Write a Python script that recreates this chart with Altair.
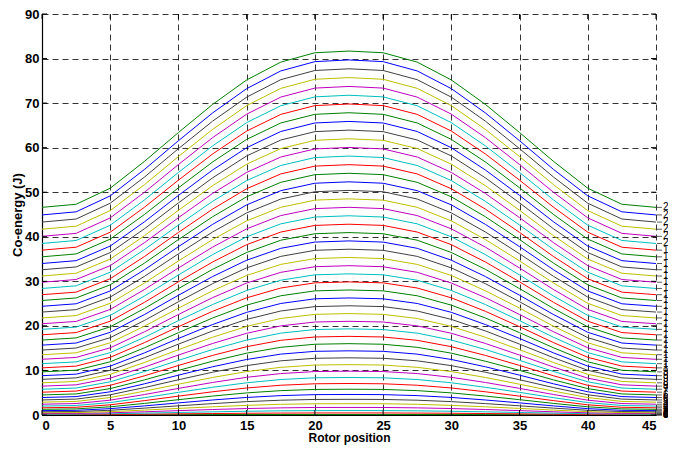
import altair as alt
import pandas as pd

# Rotor positions (x) at which co-energy values were read
positions = [0, 2.5, 5, 7.5, 10, 12.5, 15, 17.5, 20, 22.5, 25, 27.5, 30, 32.5, 35, 37.5, 40, 42.5, 45]

# Current labels shown at the right end of each curve
current_labels = ["0", "0.45", "0.9", "1.35", "1.8", "2.25", "2.7", "3.15", "3.6", "4.05",
                  "4.5", "4.95", "5.4", "5.85", "6.3", "6.75", "7.2", "7.65", "8.1", "8.55",
                  "9", "9.45", "9.9", "10.35", "10.8", "11.25", "11.7", "12.15", "12.6", "13.05",
                  "13.5", "13.95", "14.4", "14.85", "15.3", "15.75", "16.2", "16.65", "17.1", "17.55",
                  "18", "18.45", "18.9", "19.35", "19.8", "20.25", "20.7", "21.15", "21.6", "22.05", "22.5"]

# Co-energy (J) per curve, one row per current, values at the positions above
coenergy = [
    [0, 0, 0, 0, 0, 0, 0, 0, 0, 0, 0, 0, 0, 0, 0, 0, 0, 0, 0],
    [0.02, 0.02, 0.03, 0.05, 0.07, 0.09, 0.10, 0.11, 0.12, 0.12, 0.12, 0.11, 0.10, 0.09, 0.07, 0.05, 0.03, 0.02, 0.02],
    [0.08, 0.09, 0.13, 0.19, 0.26, 0.33, 0.39, 0.43, 0.46, 0.46, 0.46, 0.43, 0.39, 0.33, 0.26, 0.19, 0.13, 0.09, 0.08],
    [0.18, 0.20, 0.28, 0.42, 0.57, 0.71, 0.84, 0.93, 0.98, 0.99, 0.98, 0.93, 0.84, 0.71, 0.57, 0.42, 0.28, 0.20, 0.18],
    [0.32, 0.35, 0.49, 0.72, 0.98, 1.23, 1.45, 1.60, 1.69, 1.70, 1.69, 1.60, 1.45, 1.23, 0.98, 0.72, 0.49, 0.35, 0.32],
    [0.50, 0.54, 0.75, 1.10, 1.48, 1.84, 2.16, 2.40, 2.52, 2.54, 2.52, 2.40, 2.16, 1.84, 1.48, 1.10, 0.75, 0.54, 0.50],
    [0.72, 0.78, 1.06, 1.54, 2.06, 2.56, 3.00, 3.32, 3.49, 3.52, 3.49, 3.32, 3.00, 2.56, 2.06, 1.54, 1.06, 0.78, 0.72],
    [0.98, 1.05, 1.43, 2.04, 2.72, 3.37, 3.94, 4.35, 4.57, 4.61, 4.57, 4.35, 3.94, 3.37, 2.72, 2.04, 1.43, 1.05, 0.98],
    [1.28, 1.37, 1.84, 2.60, 3.44, 4.25, 4.96, 5.47, 5.74, 5.79, 5.74, 5.47, 4.96, 4.25, 3.44, 2.60, 1.84, 1.37, 1.28],
    [1.62, 1.73, 2.29, 3.22, 4.23, 5.21, 6.06, 6.68, 7.01, 7.07, 7.01, 6.68, 6.06, 5.21, 4.23, 3.22, 2.29, 1.73, 1.62],
    [2.00, 2.13, 2.79, 3.88, 5.08, 6.22, 7.23, 7.96, 8.35, 8.42, 8.35, 7.96, 7.23, 6.22, 5.08, 3.88, 2.79, 2.13, 2.00],
    [2.42, 2.57, 3.33, 4.59, 5.97, 7.30, 8.46, 9.30, 9.75, 9.83, 9.75, 9.30, 8.46, 7.30, 5.97, 4.59, 3.33, 2.57, 2.42],
    [2.88, 3.05, 3.92, 5.35, 6.91, 8.42, 9.74, 10.70, 11.21, 11.30, 11.21, 10.70, 9.74, 8.42, 6.91, 5.35, 3.92, 3.05, 2.88],
    [3.38, 3.57, 4.54, 6.15, 7.91, 9.60, 11.08, 12.16, 12.73, 12.83, 12.73, 12.16, 11.08, 9.60, 7.91, 6.15, 4.54, 3.57, 3.38],
    [3.92, 4.13, 5.21, 6.99, 8.94, 10.82, 12.46, 13.66, 14.29, 14.40, 14.29, 13.66, 12.46, 10.82, 8.94, 6.99, 5.21, 4.13, 3.92],
    [4.50, 4.73, 5.92, 7.87, 10.01, 12.07, 13.88, 15.19, 15.88, 16.01, 15.88, 15.19, 13.88, 12.07, 10.01, 7.87, 5.92, 4.73, 4.50],
    [5.12, 5.37, 6.66, 8.79, 11.12, 13.37, 15.33, 16.76, 17.51, 17.65, 17.51, 16.76, 15.33, 13.37, 11.12, 8.79, 6.66, 5.37, 5.12],
    [5.78, 6.05, 7.45, 9.75, 12.27, 14.70, 16.82, 18.37, 19.18, 19.33, 19.18, 18.37, 16.82, 14.70, 12.27, 9.75, 7.45, 6.05, 5.78],
    [6.48, 6.77, 8.27, 10.74, 13.45, 16.05, 18.34, 20.00, 20.87, 21.03, 20.87, 20.00, 18.34, 16.05, 13.45, 10.74, 8.27, 6.77, 6.48],
    [7.22, 7.53, 9.13, 11.77, 14.66, 17.45, 19.89, 21.66, 22.59, 22.76, 22.59, 21.66, 19.89, 17.45, 14.66, 11.77, 9.13, 7.53, 7.22],
    [8.00, 8.33, 10.03, 12.84, 15.91, 18.86, 21.46, 23.34, 24.33, 24.51, 24.33, 23.34, 21.46, 18.86, 15.91, 12.84, 10.03, 8.33, 8.00],
    [8.82, 9.17, 10.97, 13.93, 17.18, 20.30, 23.04, 25.03, 26.08, 26.27, 26.08, 25.03, 23.04, 20.30, 17.18, 13.93, 10.97, 9.17, 8.82],
    [9.68, 10.05, 11.94, 15.07, 18.48, 21.77, 24.66, 26.76, 27.86, 28.06, 27.86, 26.76, 24.66, 21.77, 18.48, 15.07, 11.94, 10.05, 9.68],
    [10.58, 10.97, 12.95, 16.23, 19.82, 23.27, 26.30, 28.50, 29.66, 29.87, 29.66, 28.50, 26.30, 23.27, 19.82, 16.23, 12.95, 10.97, 10.58],
    [11.52, 11.92, 14.00, 17.43, 21.18, 24.79, 27.95, 30.25, 31.46, 31.68, 31.46, 30.25, 27.95, 24.79, 21.18, 17.43, 14.00, 11.92, 11.52],
    [12.50, 12.92, 15.08, 18.66, 22.56, 26.33, 29.62, 32.02, 33.28, 33.51, 33.28, 32.02, 29.62, 26.33, 22.56, 18.66, 15.08, 12.92, 12.50],
    [13.52, 13.96, 16.21, 19.92, 23.98, 27.88, 31.31, 33.80, 35.11, 35.35, 35.11, 33.80, 31.31, 27.88, 23.98, 19.92, 16.21, 13.96, 13.52],
    [14.58, 15.03, 17.36, 21.21, 25.42, 29.47, 33.02, 35.60, 36.96, 37.21, 36.96, 35.60, 33.02, 29.47, 25.42, 21.21, 17.36, 15.03, 14.58],
    [15.68, 16.15, 18.56, 22.53, 26.88, 31.07, 34.74, 37.41, 38.81, 39.07, 38.81, 37.41, 34.74, 31.07, 26.88, 22.53, 18.56, 16.15, 15.68],
    [16.82, 17.30, 19.79, 23.89, 28.37, 32.69, 36.48, 39.23, 40.68, 40.94, 40.68, 39.23, 36.48, 32.69, 28.37, 23.89, 19.79, 17.30, 16.82],
    [18.00, 18.50, 21.05, 25.27, 29.89, 34.33, 38.23, 41.06, 42.55, 42.82, 42.55, 41.06, 38.23, 34.33, 29.89, 25.27, 21.05, 18.50, 18.00],
    [19.22, 19.73, 22.36, 26.69, 31.43, 35.99, 39.99, 42.90, 44.43, 44.71, 44.43, 42.90, 39.99, 35.99, 31.43, 26.69, 22.36, 19.73, 19.22],
    [20.48, 21.00, 23.69, 28.14, 33.00, 37.67, 41.78, 44.76, 46.32, 46.61, 46.32, 44.76, 41.78, 37.67, 33.00, 28.14, 23.69, 21.00, 20.48],
    [21.78, 22.32, 25.07, 29.61, 34.58, 39.37, 43.57, 46.61, 48.22, 48.51, 48.22, 46.61, 43.57, 39.37, 34.58, 29.61, 25.07, 22.32, 21.78],
    [23.10, 23.65, 26.46, 31.10, 36.18, 41.07, 45.36, 48.47, 50.11, 50.41, 50.11, 48.47, 45.36, 41.07, 36.18, 31.10, 26.46, 23.65, 23.10],
    [24.40, 24.96, 27.84, 32.58, 37.78, 42.78, 47.16, 50.35, 52.02, 52.33, 52.02, 50.35, 47.16, 42.78, 37.78, 32.58, 27.84, 24.96, 24.40],
    [25.70, 26.27, 29.21, 34.07, 39.38, 44.49, 48.97, 52.22, 53.94, 54.25, 53.94, 52.22, 48.97, 44.49, 39.38, 34.07, 29.21, 26.27, 25.70],
    [27.00, 27.58, 30.59, 35.55, 40.98, 46.20, 50.78, 54.11, 55.86, 56.18, 55.86, 54.11, 50.78, 46.20, 40.98, 35.55, 30.59, 27.58, 27.00],
    [28.40, 28.99, 32.05, 37.11, 42.63, 47.95, 52.61, 56.00, 57.78, 58.11, 57.78, 56.00, 52.61, 47.95, 42.63, 37.11, 32.05, 28.99, 28.40],
    [29.80, 30.41, 33.52, 38.66, 44.29, 49.71, 54.45, 57.90, 59.72, 60.05, 59.72, 57.90, 54.45, 49.71, 44.29, 38.66, 33.52, 30.41, 29.80],
    [31.20, 31.82, 34.99, 40.22, 45.95, 51.46, 56.29, 59.80, 61.65, 61.99, 61.65, 59.80, 56.29, 51.46, 45.95, 40.22, 34.99, 31.82, 31.20],
    [32.60, 33.23, 36.46, 41.78, 47.61, 53.22, 58.14, 61.72, 63.60, 63.94, 63.60, 61.72, 58.14, 53.22, 47.61, 41.78, 36.46, 33.23, 32.60],
    [34.00, 34.64, 37.92, 43.34, 49.28, 54.98, 59.99, 63.63, 65.54, 65.89, 65.54, 63.63, 59.99, 54.98, 49.28, 43.34, 37.92, 34.64, 34.00],
    [35.50, 36.15, 39.48, 44.98, 50.99, 56.78, 61.86, 65.54, 67.48, 67.84, 67.48, 65.54, 61.86, 56.78, 50.99, 44.98, 39.48, 36.15, 35.50],
    [37.00, 37.66, 41.03, 46.61, 52.71, 58.58, 63.73, 67.47, 69.44, 69.80, 69.44, 67.47, 63.73, 58.58, 52.71, 46.61, 41.03, 37.66, 37.00],
    [38.50, 39.17, 42.59, 48.25, 54.44, 60.39, 65.62, 69.41, 71.40, 71.77, 71.40, 69.41, 65.62, 60.39, 54.44, 48.25, 42.59, 39.17, 38.50],
    [40.10, 40.77, 44.24, 49.96, 56.21, 62.24, 67.52, 71.35, 73.37, 73.74, 73.37, 71.35, 67.52, 62.24, 56.21, 49.96, 44.24, 40.77, 40.10],
    [41.70, 42.38, 45.88, 51.67, 58.00, 64.09, 69.43, 73.31, 75.35, 75.72, 75.35, 73.31, 69.43, 64.09, 58.00, 51.67, 45.88, 42.38, 41.70],
    [43.30, 43.99, 47.53, 53.38, 59.78, 65.94, 71.34, 75.26, 77.32, 77.70, 77.32, 75.26, 71.34, 65.94, 59.78, 53.38, 47.53, 43.99, 43.30],
    [44.90, 45.60, 49.18, 55.09, 61.56, 67.79, 73.25, 77.22, 79.31, 79.69, 79.31, 77.22, 73.25, 67.79, 61.56, 55.09, 49.18, 45.60, 44.90],
    [46.60, 47.30, 50.90, 56.90, 63.40, 69.70, 75.20, 79.20, 81.30, 81.68, 81.30, 79.20, 75.20, 69.70, 63.40, 56.90, 50.90, 47.30, 46.60],
]

x_ticks = [0, 5, 10, 15, 20, 25, 30, 35, 40, 45]
y_ticks = [0, 10, 20, 30, 40, 50, 60, 70, 80, 90]

# MATLAB classic line colour order
color_order = ["#0000ff", "#008000", "#ff0000", "#00bfbf", "#bf00bf", "#bfbf00", "#404040"]

rows = []
for k, vals in enumerate(coenergy):
    for x, v in zip(positions, vals):
        rows.append({"pos": x, "W": v, "curve": k, "col": k % 7})
df = pd.DataFrame(rows)

lab_rows = [{"pos": positions[-1], "W": vals[-1], "label": current_labels[k]}
            for k, vals in enumerate(coenergy)]
df_lab = pd.DataFrame(lab_rows)

FONT = "Liberation Sans"

x_scale = alt.Scale(domain=[0, 45], nice=False, zero=False)
y_scale = alt.Scale(domain=[0, 90], nice=False, zero=False)

x_axis = alt.Axis(values=x_ticks, grid=True, gridDash=[6, 4], gridColor="#000000", gridOpacity=1,
                  gridWidth=0.8, ticks=False, domain=True, domainColor="#000000", domainWidth=1.2,
                  labelFont=FONT, labelFontSize=13, labelFontWeight="bold", labelColor="#000000",
                  labelPadding=4, title="Rotor position", titleFont=FONT, titleFontSize=12,
                  titleFontWeight="bold", titleColor="#000000", titlePadding=0)
y_axis = alt.Axis(values=y_ticks, grid=True, gridDash=[6, 4], gridColor="#000000", gridOpacity=1,
                  gridWidth=0.8, ticks=False, domain=True, domainColor="#000000", domainWidth=1.2,
                  labelFont=FONT, labelFontSize=13, labelFontWeight="bold", labelColor="#000000",
                  labelPadding=3, title="Co-energy (J)", titleFont=FONT, titleFontSize=13,
                  titleFontWeight="bold", titleColor="#000000", titlePadding=0)

lines = alt.Chart(df).mark_line(strokeWidth=1, interpolate="linear", clip=True).encode(
    x=alt.X("pos:Q", scale=x_scale, axis=x_axis),
    y=alt.Y("W:Q", scale=y_scale, axis=y_axis),
    color=alt.Color("col:N", scale=alt.Scale(domain=list(range(7)), range=color_order), legend=None),
    detail="curve:N",
    order="pos:Q",
)

df_xt = pd.DataFrame({"t": x_ticks})
df_yt = pd.DataFrame({"t": y_ticks})

tick_b = alt.Chart(df_xt).mark_rule(color="black", strokeWidth=1, y2Offset=-5).encode(
    x=alt.X("t:Q", scale=x_scale), y=alt.datum(0, scale=y_scale), y2=alt.datum(0))
tick_t = alt.Chart(df_xt).mark_rule(color="black", strokeWidth=1, y2Offset=5).encode(
    x=alt.X("t:Q", scale=x_scale), y=alt.datum(90, scale=y_scale), y2=alt.datum(90))
tick_l = alt.Chart(df_yt).mark_rule(color="black", strokeWidth=1, x2Offset=5).encode(
    y=alt.Y("t:Q", scale=y_scale), x=alt.datum(0, scale=x_scale), x2=alt.datum(0))
tick_r = alt.Chart(df_yt).mark_rule(color="black", strokeWidth=1, x2Offset=-5).encode(
    y=alt.Y("t:Q", scale=y_scale), x=alt.datum(45, scale=x_scale), x2=alt.datum(45))

leaders = alt.Chart(df_lab).mark_rule(color="#333333", strokeWidth=0.8, xOffset=1, x2Offset=6).encode(
    x=alt.X("pos:Q", scale=x_scale), x2="pos:Q", y=alt.Y("W:Q", scale=y_scale))

labels = alt.Chart(df_lab).mark_text(align="left", baseline="middle", dx=7, fontSize=10,
                                     font=FONT, color="#000000").encode(
    x=alt.X("pos:Q", scale=x_scale), y=alt.Y("W:Q", scale=y_scale), text="label:N")

chart = alt.layer(lines, tick_b, tick_t, tick_l, tick_r, leaders, labels).properties(
    width=614, height=401,
    autosize=alt.AutoSizeParams(type="none"),
    padding={"left": 34, "top": 6, "right": 12, "bottom": 30},
    background="white",
).configure_view(stroke=None)

chart.save("out.html", embed_options={"renderer": "svg", "actions": False})
